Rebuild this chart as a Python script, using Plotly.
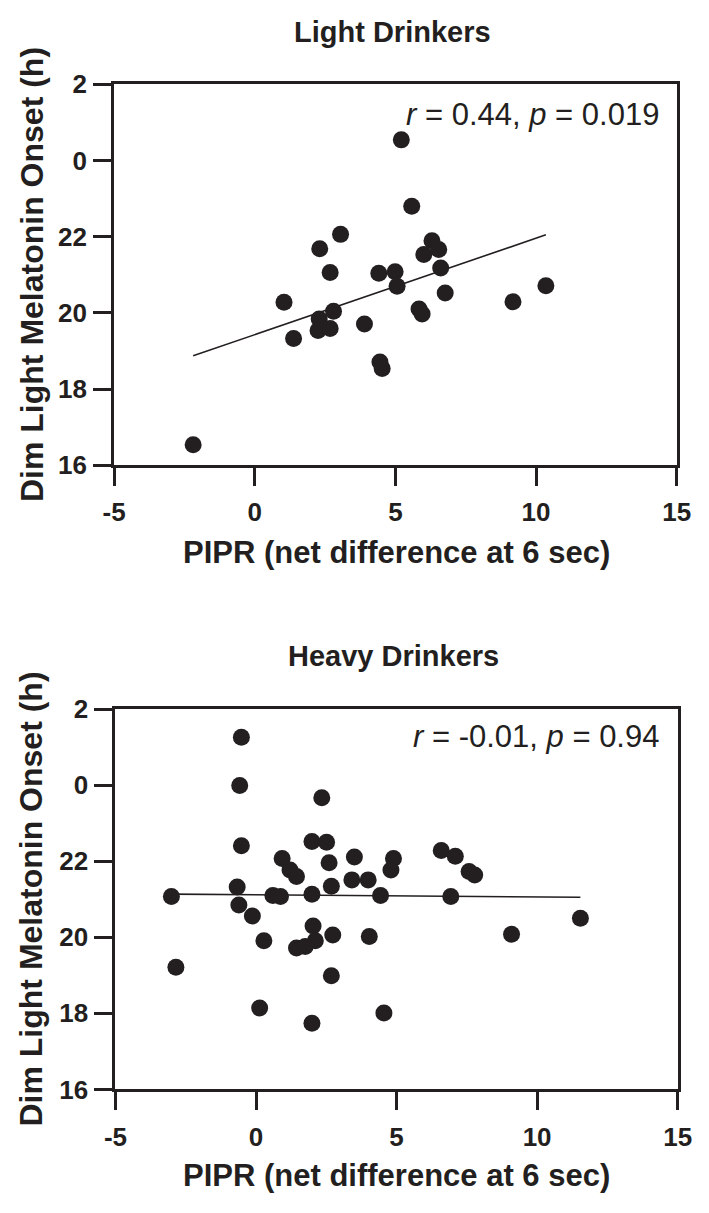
import numpy as np
import plotly.graph_objects as go

# ---------------- data ----------------
# y values are clock hours on a continuous scale (24 = midnight, 26 = 02:00)
light_pipr = [5.21, 5.58, 3.05, 2.31, 6.30, 6.54, 6.01, 2.68, 4.41, 4.99,
              5.06, 6.61, 6.77, 10.35, 1.04, 9.18, 5.84, 5.95, 2.80, 2.29,
              2.25, 2.68, 3.90, 1.38, 4.45, 4.53, -2.19]
light_dlmo = [24.54, 22.80, 22.06, 21.68, 21.89, 21.66, 21.53, 21.06, 21.04, 21.08,
              20.70, 21.18, 20.52, 20.71, 20.28, 20.29, 20.10, 19.97, 20.04, 19.84,
              19.54, 19.59, 19.71, 19.33, 18.71, 18.54, 16.54]

heavy_pipr = [-0.52, -0.58, 2.34, -0.52, 1.99, 2.51, 0.93, 3.50, 4.89, 4.80,
              6.59, 7.09, 7.58, 7.78, 2.60, 1.21, 1.44, 3.41, 3.99, -0.67,
              2.68, -3.01, 0.60, 0.87, 1.99, 4.43, 6.93, -0.61, -0.13, 11.54,
              2.03, 0.28, 2.11, 2.73, 4.03, 9.09, 1.44, 1.75, -2.85, 2.68,
              0.13, 4.55, 1.99]
heavy_dlmo = [25.26, 23.99, 23.67, 22.41, 22.52, 22.50, 22.07, 22.11, 22.07, 21.77,
              22.28, 22.13, 21.73, 21.64, 21.96, 21.77, 21.60, 21.51, 21.51, 21.32,
              21.34, 21.07, 21.10, 21.07, 21.13, 21.10, 21.07, 20.85, 20.56, 20.50,
              20.30, 19.91, 19.91, 20.06, 20.02, 20.08, 19.72, 19.76, 19.21, 18.99,
              18.14, 18.01, 17.74]

panel_titles = ["Light Drinkers", "Heavy Drinkers"]
stats_text = ["<i>r</i> = 0.44, <i>p</i> = 0.019", "<i>r</i> = -0.01, <i>p</i> = 0.94"]

y_tickvals = [16, 18, 20, 22, 24, 26]
y_ticktext = ["16", "18", "20", "22", "0", "2"]
x_tickvals = [-5, 0, 5, 10, 15]
x_ticktext = ["-5", "0", "5", "10", "15"]

x_title = "PIPR (net difference at 6 sec)"
y_title = "Dim Light Melatonin Onset (h)"

# ---------------- figure ----------------
W, H = 709, 1213
FONT = "Liberation Sans, Arial, Helvetica, sans-serif"
INK = "#231f20"

fig = go.Figure()

panels = [
    dict(x=light_pipr, y=light_dlmo, xa="x", ya="y",
         xdom=(106, 690), ydom=(71, 461.7)),
    dict(x=heavy_pipr, y=heavy_dlmo, xa="x2", ya="y2",
         xdom=(107.4, 691), ydom=(711.7, 1101.7)),
]

def px_x(v):
    return v / W

def px_y(v):
    return 1 - v / H

for i, p in enumerate(panels):
    xs = np.array(p["x"])
    ys = np.array(p["y"])
    slope, intercept = np.polyfit(xs, ys, 1)
    lx = np.array([xs.min(), xs.max()])
    ly = slope * lx + intercept
    fig.add_trace(go.Scatter(x=lx, y=ly, mode="lines",
                             line=dict(color=INK, width=1.6),
                             xaxis=p["xa"], yaxis=p["ya"], showlegend=False,
                             hoverinfo="skip"))
    fig.add_trace(go.Scatter(x=xs, y=ys, mode="markers",
                             marker=dict(color=INK, size=17, line=dict(width=0)),
                             xaxis=p["xa"], yaxis=p["ya"], showlegend=False))

    xd = [px_x(p["xdom"][0]), px_x(p["xdom"][1])]
    yd = [px_y(p["ydom"][1]), px_y(p["ydom"][0])]
    suffix = "" if i == 0 else "2"
    axis_common = dict(showline=True, linewidth=3, linecolor=INK, mirror=True,
                       ticks="outside", ticklen=18, tickwidth=3, tickcolor=INK,
                       showgrid=False, zeroline=False,
                       tickfont=dict(family=FONT, size=26, color=INK, weight="bold"))
    fig.layout["xaxis" + suffix] = dict(
        domain=xd, range=[-5, 15], tickvals=x_tickvals, ticktext=x_ticktext,
        anchor="y" + suffix, ticklabelstandoff=4, **axis_common)
    fig.layout["yaxis" + suffix] = dict(
        domain=yd, range=[16, 26], tickvals=y_tickvals, ticktext=y_ticktext,
        anchor="x" + suffix, ticklabelstandoff=1, **axis_common)

    cx = (p["xdom"][0] + p["xdom"][1]) / 2
    cy = (p["ydom"][0] + p["ydom"][1]) / 2
    title_y = 17.5 if i == 0 else 657
    xt_y = 551 if i == 0 else 1190
    stat_y = 102 if i == 0 else 740
    # panel title
    fig.add_annotation(text=panel_titles[i], xref="paper", yref="paper",
                       x=px_x(cx - 3), y=px_y(title_y), xanchor="center",
                       yanchor="middle", showarrow=False,
                       font=dict(family=FONT, size=29, color=INK, weight="bold"))
    # correlation text
    fig.add_annotation(text=stats_text[i], xref="paper", yref="paper",
                       x=px_x(674), y=px_y(stat_y), xanchor="right",
                       yanchor="middle", showarrow=False,
                       font=dict(family=FONT, size=31, color=INK))
    # x axis title
    fig.add_annotation(text=x_title, xref="paper", yref="paper",
                       x=px_x(399), y=px_y(xt_y), xanchor="center",
                       yanchor="middle", showarrow=False,
                       font=dict(family=FONT, size=31, color=INK, weight="bold"))
    # y axis title
    fig.add_annotation(text=y_title, xref="paper", yref="paper",
                       x=px_x(20), y=px_y(cy), xanchor="center",
                       yanchor="middle", showarrow=False, textangle=-90,
                       font=dict(family=FONT, size=32, color=INK, weight="bold"))

fig.update_layout(width=W, height=H, margin=dict(l=0, r=0, t=0, b=0),
                  paper_bgcolor="white", plot_bgcolor="white",
                  showlegend=False)

fig.write_html("out.html",
               config={"displayModeBar": False},
               post_script="document.body.style.margin='0';document.body.style.padding='0';")
